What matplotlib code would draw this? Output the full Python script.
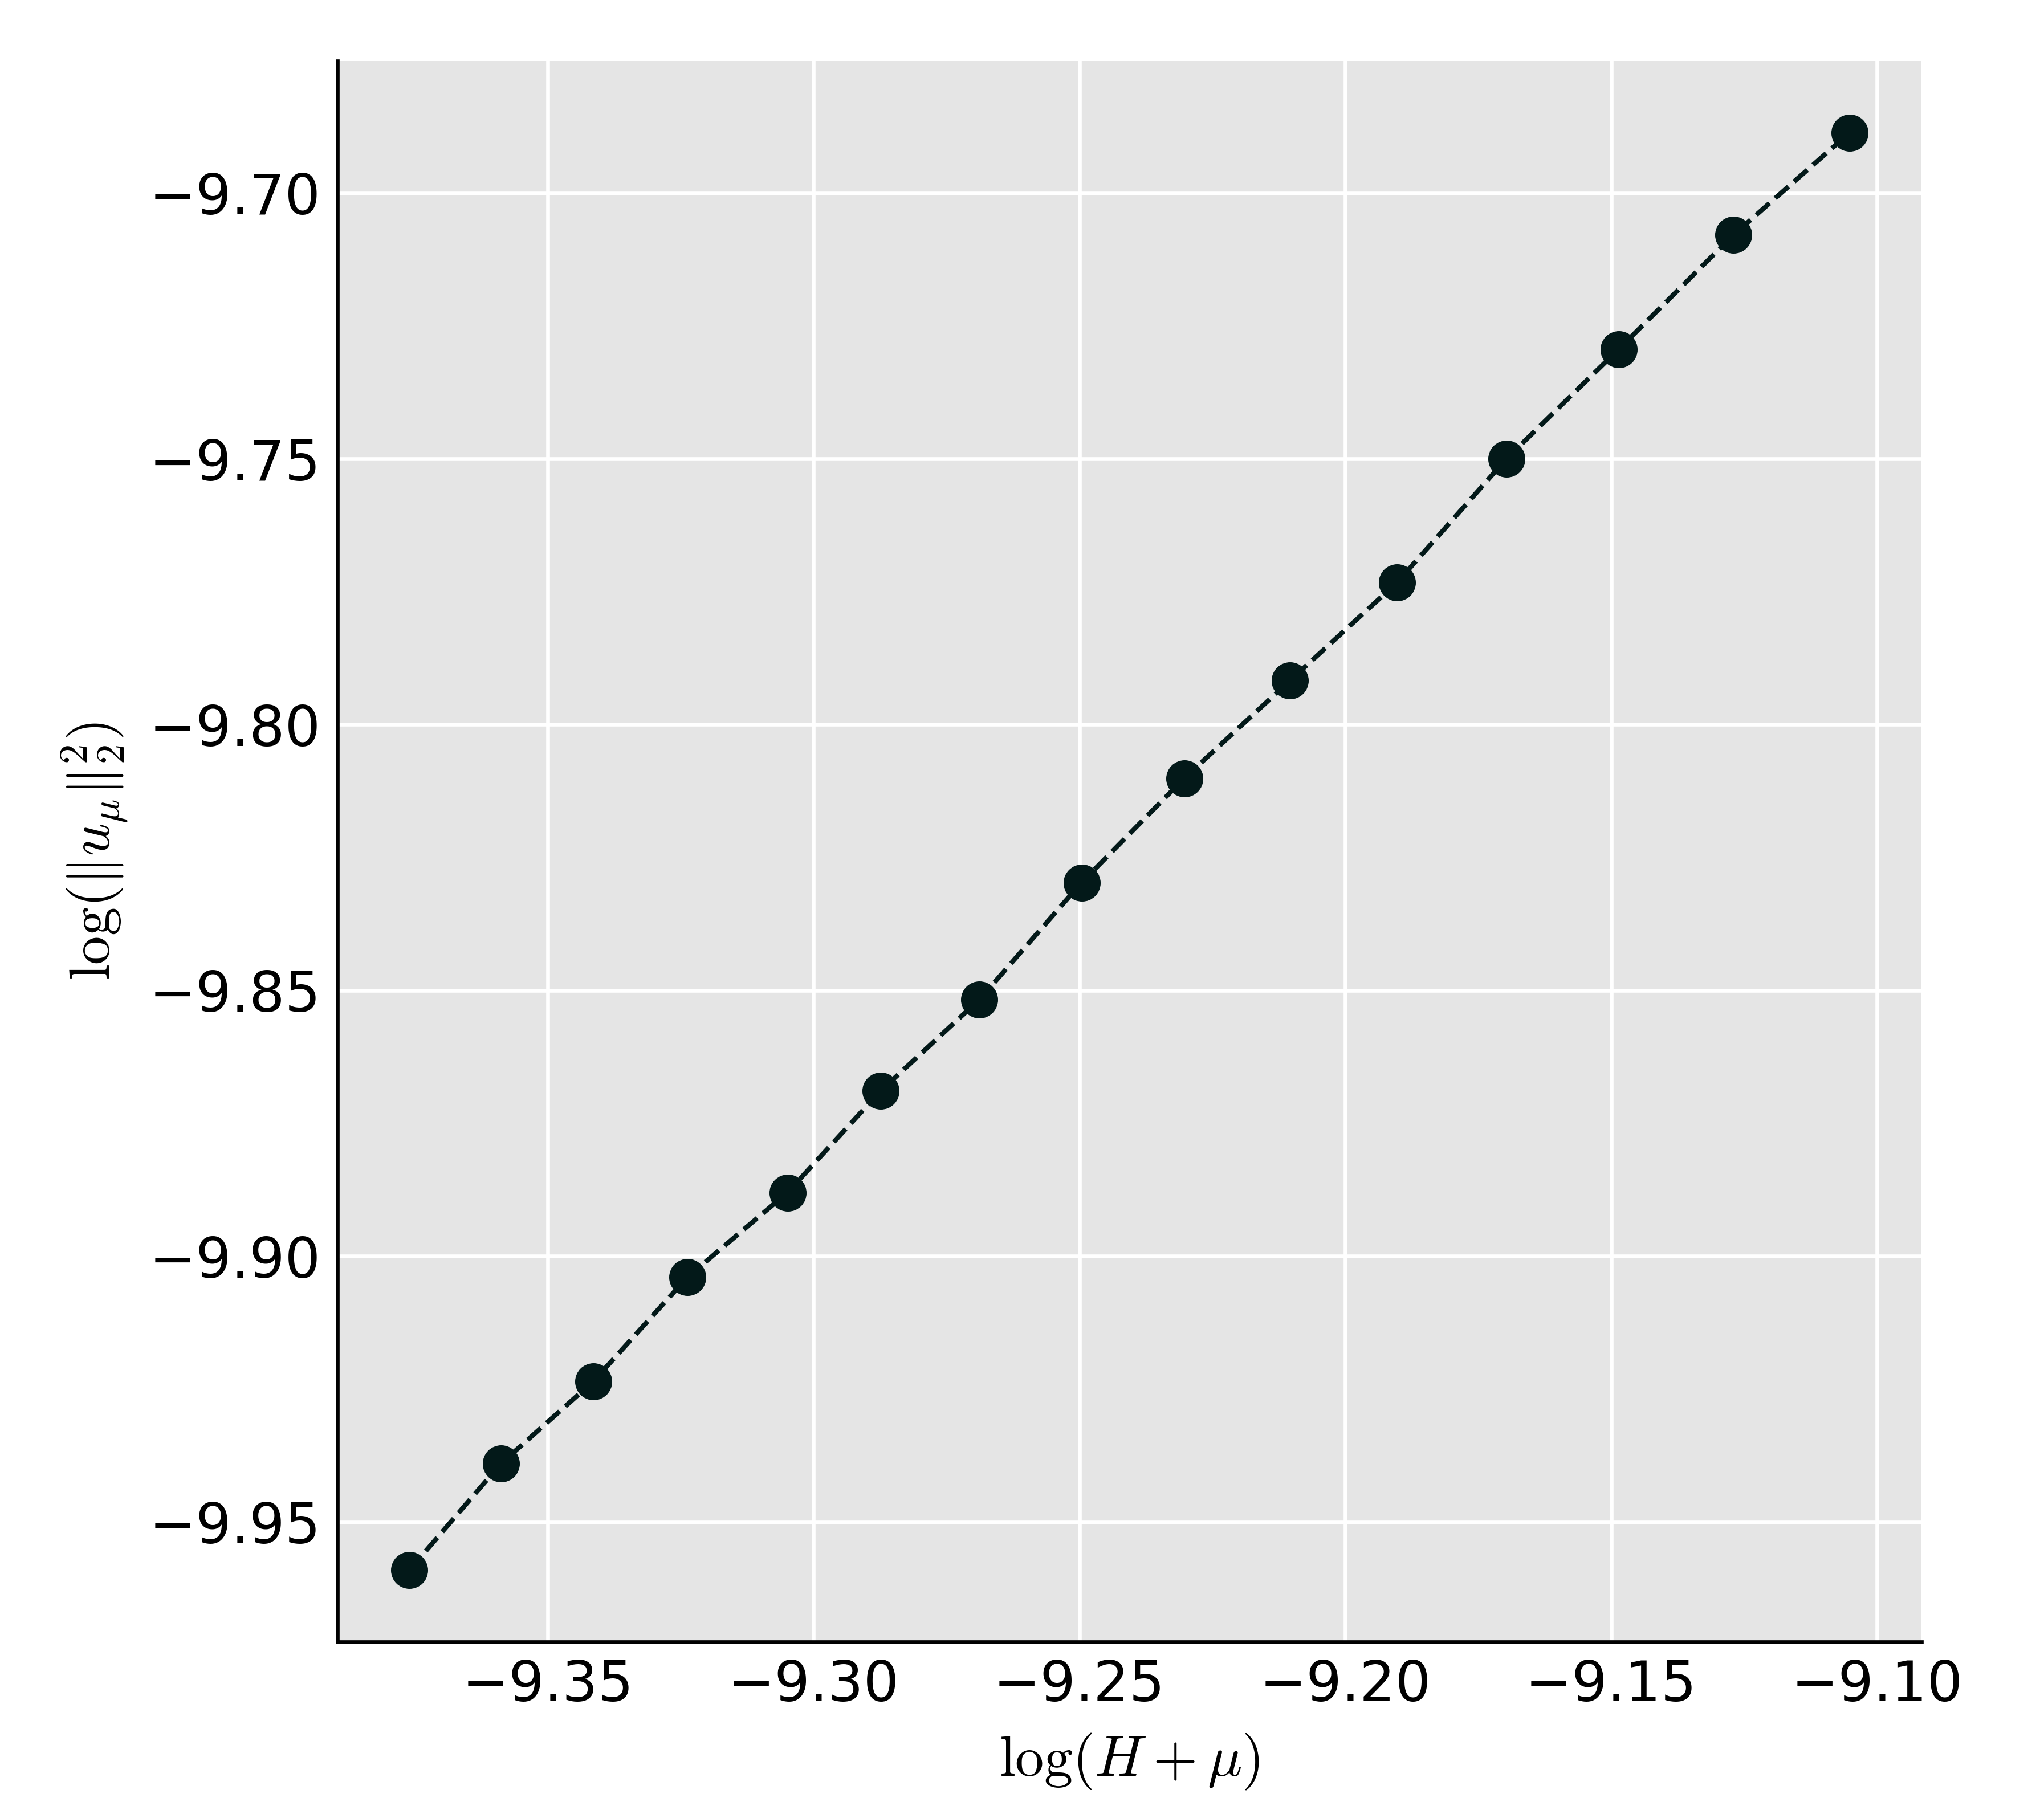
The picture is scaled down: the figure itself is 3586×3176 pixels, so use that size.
import numpy as np
import matplotlib
matplotlib.use("Agg")
import matplotlib.pyplot as plt

# Values (log scale quantities)
log_h_mu = [-9.3760, -9.3588, -9.3414, -9.3237, -9.3049, -9.2874, -9.2688, -9.2496,
            -9.2303, -9.2104, -9.1903, -9.1697, -9.1486, -9.1270, -9.1052]
log_norm = [-9.9590, -9.9390, -9.9235, -9.9039, -9.8880, -9.8689, -9.8517, -9.8297,
            -9.8101, -9.7917, -9.7733, -9.7500, -9.7294, -9.7079, -9.6887]

x_ticks = [-9.35, -9.30, -9.25, -9.20, -9.15, -9.10]
y_ticks = [-9.95, -9.90, -9.85, -9.80, -9.75, -9.70]

_BG, _FACE, _MARK = "white", "#e5e5e5", "#031919"

plt.rcParams["mathtext.fontset"] = "cm"

fig = plt.figure(figsize=(3586 / 600, 3176 / 600), dpi=600, facecolor=_BG)
ax = fig.add_axes([592 / 3586, 1 - 2881 / 3176, (3371 - 592) / 3586, (2881 - 107) / 3176])
ax.set_facecolor(_FACE)

ax.plot(log_h_mu, log_norm, ls="--", lw=1.0, color=_MARK,
        marker="o", markersize=6.8, markerfacecolor=_MARK, markeredgecolor=_MARK)

ax.set_xticks(x_ticks)
ax.set_yticks(y_ticks)
ax.grid(color="white", lw=0.8)
ax.set_axisbelow(True)
ax.tick_params(length=0, pad=3.5, labelsize=11.8)

for side in ("top", "right"):
    ax.spines[side].set_visible(False)
for side in ("left", "bottom"):
    ax.spines[side].set_color("black")
    ax.spines[side].set_linewidth(0.8)

ax.set_xlabel(r"$\log(H+\mu)$", fontsize=12.1)
ax.set_ylabel(r"$\log(\|u_\mu\|_2^2)$", fontsize=12.1)

fig.savefig("out.png", dpi=600, facecolor=_BG)
